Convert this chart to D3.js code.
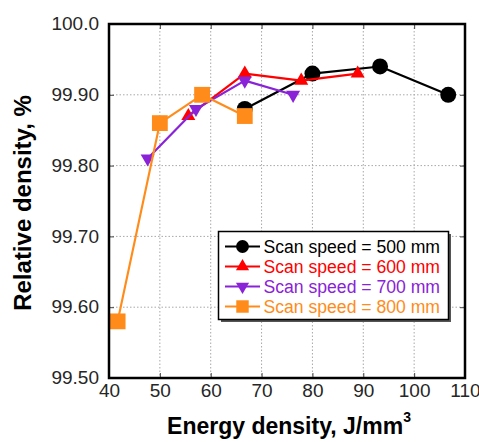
<!DOCTYPE html>
<html>
<head>
<meta charset="utf-8">
<script src="https://cdn.jsdelivr.net/npm/d3@7"></script>
<style>
  html, body { margin: 0; padding: 0; background: #fff; }
  svg { display: block; font-family: "Liberation Sans", Arial, sans-serif; }
</style>
</head>
<body>
<svg id="chart" width="479" height="442"></svg>
<script>
// Energy density (J/mm^3) and relative density (%) for each scan speed
const energy500 = [66.7, 80.0, 93.3, 106.7];
const density500 = [99.88, 99.93, 99.94, 99.90];
const energy600 = [55.6, 66.7, 77.8, 88.9];
const density600 = [99.87, 99.93, 99.92, 99.93];
const energy700 = [47.6, 57.1, 66.7, 76.2];
const density700 = [99.81, 99.88, 99.92, 99.90];
const energy800 = [41.7, 50.0, 58.3, 66.7];
const density800 = [99.58, 99.86, 99.90, 99.87];

const seriesNames = ["Scan speed = 500 mm", "Scan speed = 600 mm", "Scan speed = 700 mm", "Scan speed = 800 mm"];
const xTicks = [40, 50, 60, 70, 80, 90, 100, 110];
const yTicks = [99.5, 99.6, 99.7, 99.8, 99.9, 100.0];
const yTickLabels = ["99.50", "99.60", "99.70", "99.80", "99.90", "100.0"];

const series = [
  { name: seriesNames[0], x: energy500, y: density500, color: "#000000", symbol: d3.symbolCircle, size: 200, legendSize: 130 },
  { name: seriesNames[1], x: energy600, y: density600, color: "#ff0000", symbol: d3.symbolTriangle, size: 85, legendSize: 75 },
  { name: seriesNames[2], x: energy700, y: density700, color: "#8a22d8", symbol: d3.symbolTriangle, rotate: 180, size: 85, legendSize: 75 },
  { name: seriesNames[3], x: energy800, y: density800, color: "#ff8c1a", symbol: d3.symbolSquare, size: 250, legendSize: 155 }
];

const svg = d3.select("#chart");
const plotL = 109, plotR = 465, plotT = 24, plotB = 378;

const x = d3.scaleLinear().domain([40, 110]).range([plotL, plotR]);
const y = d3.scaleLinear().domain([99.5, 100.0]).range([plotB, plotT]);

// dotted grid
const grid = svg.append("g");
grid.selectAll("line.gx").data(xTicks.slice(1, -1)).join("line")
  .attr("x1", d => x(d)).attr("x2", d => x(d))
  .attr("y1", plotT).attr("y2", plotB)
  .attr("stroke", "#a8a8a8").attr("stroke-width", 1).attr("stroke-dasharray", "1.5,2");
grid.selectAll("line.gy").data(yTicks.slice(1, -1)).join("line")
  .attr("x1", plotL).attr("x2", plotR)
  .attr("y1", d => y(d)).attr("y2", d => y(d))
  .attr("stroke", "#a8a8a8").attr("stroke-width", 1).attr("stroke-dasharray", "1.5,2");

// axes with inward ticks
const axisColor = "#444";
const xAxisB = svg.append("g").attr("transform", `translate(0,${plotB})`)
  .call(d3.axisBottom(x).tickValues(xTicks).tickSizeInner(-5).tickSizeOuter(0).tickPadding(10));
const xAxisT = svg.append("g").attr("transform", `translate(0,${plotT})`)
  .call(d3.axisTop(x).tickValues(xTicks).tickSizeInner(-5).tickSizeOuter(0).tickFormat(""));
const yAxisL = svg.append("g").attr("transform", `translate(${plotL},0)`)
  .call(d3.axisLeft(y).tickValues(yTicks).tickSizeInner(-5).tickSizeOuter(0).tickPadding(10)
    .tickFormat((d, i) => yTickLabels[i]));
const yAxisR = svg.append("g").attr("transform", `translate(${plotR},0)`)
  .call(d3.axisRight(y).tickValues(yTicks).tickSizeInner(-5).tickSizeOuter(0).tickFormat(""));

[xAxisB, xAxisT, yAxisL, yAxisR].forEach(g => {
  g.select(".domain").remove();
  g.selectAll(".tick line").attr("stroke", axisColor);
});
xAxisB.selectAll("text").attr("font-size", 19).attr("fill", "#262626")
  .attr("font-family", "Liberation Sans, Arial, sans-serif").attr("dy", "0.71em").attr("y", 6);
yAxisL.selectAll("text").attr("font-size", 19).attr("fill", "#262626")
  .attr("font-family", "Liberation Sans, Arial, sans-serif").attr("dy", "0.3em");

// series lines and markers
const line = d3.line().x(d => x(d[0])).y(d => y(d[1]));
series.forEach(s => {
  const pts = s.x.map((v, i) => [v, s.y[i]]);
  const g = svg.append("g");
  g.append("path").attr("d", line(pts)).attr("fill", "none")
    .attr("stroke", s.color).attr("stroke-width", 2.2).attr("stroke-linejoin", "round");
  g.selectAll("path.m").data(pts).join("path")
    .attr("d", d3.symbol().type(s.symbol).size(s.size))
    .attr("transform", d => `translate(${x(d[0])},${y(d[1])})` + (s.rotate ? ` rotate(${s.rotate})` : ""))
    .attr("fill", s.color);
});

// plot frame
svg.append("rect").attr("x", plotL).attr("y", plotT)
  .attr("width", plotR - plotL).attr("height", plotB - plotT)
  .attr("fill", "none").attr("stroke", "#000").attr("stroke-width", 2.5);

// legend
const lg = svg.append("g");
const lx = 218.5, ly = 231.5, lw = 230, lh = 88;
lg.append("rect").attr("x", lx + 2.5).attr("y", ly + 2.5).attr("width", lw).attr("height", lh).attr("fill", "#555");
lg.append("rect").attr("x", lx).attr("y", ly).attr("width", lw).attr("height", lh)
  .attr("fill", "#fff").attr("stroke", "#000").attr("stroke-width", 1.5);
series.forEach((s, i) => {
  const ry = 246.5 + i * 20;
  lg.append("line").attr("x1", 225).attr("x2", 260).attr("y1", ry).attr("y2", ry)
    .attr("stroke", s.color).attr("stroke-width", 2.2);
  lg.append("path").attr("d", d3.symbol().type(s.symbol).size(s.legendSize))
    .attr("transform", `translate(242.5,${ry})` + (s.rotate ? ` rotate(${s.rotate})` : ""))
    .attr("fill", s.color);
  lg.append("text").attr("x", 263.5).attr("y", ry).attr("dy", "0.36em")
    .attr("font-size", 17.6).attr("fill", s.color).text(s.name);
});

// axis titles
const xt = svg.append("text").attr("x", 289).attr("y", 433.5).attr("text-anchor", "middle")
  .attr("font-size", 23).attr("font-weight", "bold").attr("fill", "#000");
xt.append("tspan").text("Energy density, J/mm");
xt.append("tspan").attr("dy", -12).attr("font-size", 14).text("3");

svg.append("text").attr("transform", "translate(31,203) rotate(-90)")
  .attr("text-anchor", "middle").attr("font-size", 24).attr("font-weight", "bold")
  .attr("fill", "#000").text("Relative density, %");
</script>
</body>
</html>
